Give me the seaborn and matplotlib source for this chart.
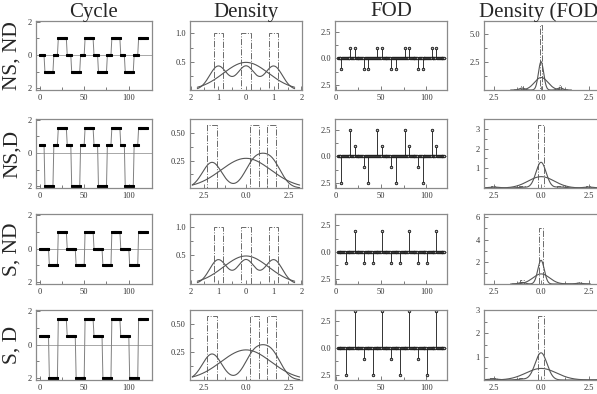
import numpy as np
import matplotlib
matplotlib.use('Agg')
import matplotlib.pyplot as plt
import seaborn as sns
from matplotlib.ticker import FuncFormatter, FixedLocator

t = np.arange(1, 121)
n_periods = 4
ns_runs = [5, 10, 5, 10]
s_runs = [10, 10, 10]
ns_nd_levels = [0, -1, 0, 1]
ns_d_levels = [0.5, -2, 0.5, 1.5]
s_nd_levels = [0, -1, 1]
s_d_levels = [0.5, -2, 1.5]

row_names = ['NS, ND', 'NS,D', 'S, ND', 'S, D']
col_names = ['Cycle', 'Density', 'FOD', 'Density (FOD)']

# histogram bin widths seen in the two density columns
dens_binw = [1 / 3, 0.583, 1 / 3, 0.583]
fod_binw = [0.15, 0.275, 0.18, 0.33]


def build_cycle(levels, runs):
    return np.repeat(np.tile(levels, n_periods), np.tile(runs, n_periods))


cycles = [build_cycle(ns_nd_levels, ns_runs), build_cycle(ns_d_levels, ns_runs),
          build_cycle(s_nd_levels, s_runs), build_cycle(s_d_levels, s_runs)]

W, H = 597, 394
fig = plt.figure(figsize=(W / 100, H / 100), dpi=100)
sns.set_style('ticks')
plt.rcParams['font.family'] = ['Liberation Serif', 'DejaVu Serif']

col_left = [36, 190, 335, 484]
col_width = [116, 112, 112, 116]
row_top = [21, 119, 214, 310]
row_height = [69, 69, 70, 70]

curve_col = '#555555'
spine_col = '#8a8a8a'
bar_col = '#6a6a6a'


def add_ax(r, c):
    l, w = col_left[c], col_width[c]
    tp, h = row_top[r], row_height[r]
    ax = fig.add_axes([l / W, 1 - (tp + h) / H, w / W, h / H])
    for s in ax.spines.values():
        s.set_color(spine_col)
        s.set_linewidth(0.9)
    ax.tick_params(which='both', direction='in', colors='#666666',
                   labelcolor='#333333', labelsize=6, pad=3, width=0.6)
    ax.tick_params(which='major', length=3)
    ax.tick_params(which='minor', length=2)
    return ax


def set_ticks(ax, axis, major, minor, fmt):
    a = ax.xaxis if axis == 'x' else ax.yaxis
    a.set_major_locator(FixedLocator(major))
    a.set_minor_locator(FixedLocator(minor))
    a.set_major_formatter(FuncFormatter(fmt))


def centred_edges(values, w):
    vals = np.unique(values)
    return np.sort(np.concatenate([vals - w / 2, vals + w / 2]))


def draw_hist(ax, data, w):
    sns.histplot(x=data, bins=centred_edges(data, w), stat='density', element='bars',
                 fill=False, ax=ax, color=bar_col, linewidth=0.7)
    for p in ax.patches:
        p.set_edgecolor(bar_col)
        p.set_facecolor('none')
        p.set_linestyle('-.')
        if p.get_height() == 0:
            p.set_visible(False)


def draw_curves(ax, data, lo, hi):
    sns.kdeplot(x=data, ax=ax, color=curve_col, linewidth=0.8, clip=(lo, hi))
    grid = np.linspace(lo, hi, 200)
    mu, sd = data.mean(), data.std()
    pdf = np.exp(-0.5 * ((grid - mu) / sd) ** 2) / (sd * np.sqrt(2 * np.pi))
    sns.lineplot(x=grid, y=pdf, ax=ax, color=curve_col, linewidth=0.8)


absg = lambda v, p: f'{abs(v):g}'
abs1 = lambda v, p: f'{abs(v):.1f}'
f1 = lambda v, p: f'{v:.1f}'
f2 = lambda v, p: f'{v:.2f}'
fg = lambda v, p: f'{v:g}'

fod_ylims = [(0, 6.2), (0, 3.5), (0, 6.3), (0, 3.0)]
fod_yticks = [([2.5, 5.0], [1.25, 3.75], f1), ([1, 2, 3], [0.5, 1.5, 2.5], fg),
              ([2, 4, 6], [1, 3, 5], fg), ([1, 2, 3], [0.5, 1.5, 2.5], fg)]

for r, cyc in enumerate(cycles):
    fod = np.diff(cyc)
    wide = r in (1, 3)

    # Cycle
    ax = add_ax(r, 0)
    ax.axhline(0, color='#9a9a9a', linewidth=0.6)
    sns.lineplot(x=t, y=cyc, ax=ax, color='#808080', linewidth=0.7,
                 marker='s', markersize=1.8, markerfacecolor='black',
                 markeredgecolor='black')
    ax.set_xlim(-4, 126)
    ax.set_ylim(-2.1, 2.05)
    set_ticks(ax, 'x', [0, 50, 100], [25, 75], fg)
    set_ticks(ax, 'y', [-2, 0, 2], [-1, 1], absg)
    ax.set_xlabel('')
    ax.set_ylabel('')

    # Density of the cycle
    ax = add_ax(r, 1)
    span = 2.15 * cyc.std()
    draw_hist(ax, cyc, dens_binw[r])
    draw_curves(ax, cyc, -span, span)
    if wide:
        ax.set_xlim(-3.3, 3.3)
        ax.set_ylim(0, 0.63)
        set_ticks(ax, 'x', [-2.5, 0, 2.5], [-1.25, 1.25], abs1)
        set_ticks(ax, 'y', [0.25, 0.5], [0.125, 0.375], f2)
    else:
        ax.set_xlim(-2.02, 2.02)
        ax.set_ylim(0, 1.22)
        set_ticks(ax, 'x', [-2, -1, 0, 1, 2], [-1.5, -0.5, 0.5, 1.5], absg)
        set_ticks(ax, 'y', [0.5, 1.0], [0.25, 0.75], f1)
    ax.set_xlabel('')
    ax.set_ylabel('')

    # First order differences
    ax = add_ax(r, 2)
    ax.axhline(0, color='#9a9a9a', linewidth=0.6)
    ml, sl, bl = ax.stem(t[1:], fod, basefmt=' ')
    plt.setp(sl, color='#333333', linewidth=0.7)
    plt.setp(ml, marker='o', markersize=1.8, markerfacecolor='#bbbbbb',
             markeredgecolor='#111111', markeredgewidth=0.6)
    ax.set_xlim(-1, 123)
    ax.set_ylim(-3.0, 3.55)
    set_ticks(ax, 'x', [0, 50, 100], [25, 75], fg)
    set_ticks(ax, 'y', [-2.5, 0, 2.5], [-1.25, 1.25], abs1)

    # Density of the differences
    ax = add_ax(r, 3)
    draw_hist(ax, fod, fod_binw[r])
    draw_curves(ax, fod, fod.min() - 0.6, fod.max() + 0.6)
    ax.set_xlim(-3.0, 3.1)
    ax.set_ylim(*fod_ylims[r])
    set_ticks(ax, 'x', [-2.5, 0, 2.5], [-1.25, 1.25], abs1)
    maj, mnr, fmt = fod_yticks[r]
    set_ticks(ax, 'y', maj, mnr, fmt)
    ax.set_xlabel('')
    ax.set_ylabel('')

    fig.text(12 / W, 1 - (row_top[r] + row_height[r] / 2) / H, row_names[r],
             rotation=90, ha='center', va='center', fontsize=15.5)

for c, name in enumerate(col_names):
    cx = (col_left[c] + col_width[c] / 2) / W
    fig.text(cx, 1 - 12 / H, name, ha='center', va='center', fontsize=15)

fig.savefig('out.png', dpi=100)
